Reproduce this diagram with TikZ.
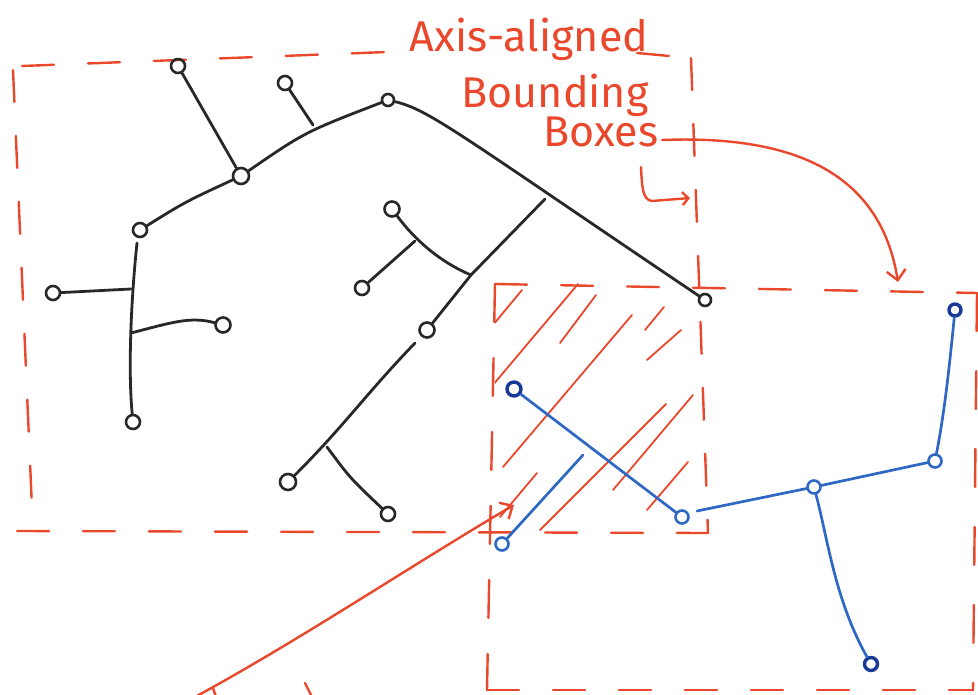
\documentclass[tikz,border=0pt]{standalone}
\usepackage{fontspec}
\newfontfamily\handfont{Fira Sans}
\usetikzlibrary{arrows.meta}
\definecolor{pen}{RGB}{234,72,44}
\definecolor{ink}{RGB}{40,40,40}
\definecolor{bluepen}{RGB}{46,104,196}
\definecolor{bluedark}{RGB}{24,58,150}

\begin{document}
\begin{tikzpicture}[x=1pt,y=-1pt,
  redline/.style={draw=pen,line width=2.4pt,line cap=round},
  dashedge/.style={redline,dash pattern=on 32pt off 34pt},
  hatchline/.style={draw=pen,line width=1.8pt,line cap=round},
  inkline/.style={draw=ink,line width=2.8pt,line cap=round},
  blueline/.style={draw=bluepen,line width=2.7pt,line cap=round},
  bnode/.style={circle,draw=ink,line width=2.6pt,inner sep=0pt,minimum size=14pt},
  bluenode/.style={circle,draw=bluepen,line width=2.6pt,inner sep=0pt,minimum size=13pt},
  darknode/.style={circle,draw=bluedark,line width=3.4pt,inner sep=0pt,minimum size=14pt},
  handtext/.style={text=pen,font=\handfont\fontsize{43}{43}\selectfont,inner sep=0pt,anchor=base},
  barb/.style={-{Straight Barb[length=10pt,width=19pt]}}
]
\fill[white] (0,0) rectangle (978,695);
\useasboundingbox (0,0) rectangle (978,695);

% ---------- bounding box of the black tree ----------
\coordinate (b1tl) at (22,66);
\coordinate (b1tm) at (413,51);
\coordinate (b1tn) at (637,53);
\coordinate (b1tr) at (691,58);
\coordinate (b1br) at (708,533);
\coordinate (b1bl) at (17,531);
\coordinate (b1lt) at (13,70);
\coordinate (b1lb) at (33,531);
\draw[dashedge] (b1tl) -- (b1tm);
\draw[dashedge] (b1tn) -- (b1tr);
\draw[dashedge] (b1tr) -- (b1br);
\draw[dashedge] (b1bl) -- (b1br);
\draw[dashedge] (b1lt) -- (b1lb);

% ---------- bounding box of the blue tree ----------
\coordinate (b2tl) at (495,284);
\coordinate (b2tr) at (977,293);
\coordinate (b2br) at (973,690);
\coordinate (b2bl) at (487,690);
\draw[dashedge] (b2tl) -- (b2tr);
\draw[dashedge,dash pattern=on 38pt off 40pt] (b2tr) -- (b2br);
\draw[dashedge] (b2bl) -- (b2br);
\draw[dashedge,dash pattern=on 38pt off 36pt] (b2tl) -- (b2bl);

% ---------- overlap hatching ----------
\begin{scope}
\clip (495,284) rectangle (708,533);
\draw[hatchline] (493,325) -- (522,290);
\draw[hatchline] (487,392) -- (578,284);
\draw[hatchline] (560,343) -- (596,295);
\draw[hatchline] (503,467) -- (632,315);
\draw[hatchline] (645,330) -- (664,307);
\draw[hatchline] (647,360) -- (681,330);
\draw[hatchline] (540,530) -- (666,404);
\draw[hatchline] (613,490) -- (693,395);
\draw[hatchline] (647,510) -- (688,462);
\draw[hatchline] (500,517) -- (537,473);
\end{scope}

% ---------- title ----------
\node[handtext] (t1) at (529,52) {Axis-aligned};
\node[handtext] (t2) at (555,108) {Bounding};
\node[handtext] (t3) at (601,147) {Boxes};

% ---------- annotation arrows ----------
\coordinate (a0) at (662,140);
\coordinate (a1) at (898,282);
\draw[redline,barb] (a0) .. controls (790,135) and (880,170) .. (a1);

\coordinate (h0) at (641,167);
\coordinate (h1) at (690,198);
\draw[redline,-{Straight Barb[length=6pt,width=13pt]}] (h0) .. controls (642,185) and (642,200) .. (652,201) -- (h1);

\coordinate (s0) at (195,697);
\coordinate (s1) at (514,505);
\draw[redline,barb] (s0) .. controls (300,640) and (420,560) .. (s1);
\coordinate (m0) at (213,688);
\coordinate (m1) at (216,697);
\draw[redline] (m0) -- (m1);
\coordinate (m2) at (305,683);
\coordinate (m3) at (312,697);
\draw[redline] (m2) -- (m3);

% ---------- black tree ----------
\node[bnode] (A) at (178,66) {};
\node[bnode,minimum size=16pt] (B) at (241,176) {};
\node[bnode] (C) at (285,83) {};
\node[bnode,minimum size=12pt] (D) at (388,100) {};
\node[bnode] (E) at (140,230) {};
\node[bnode,minimum size=12pt] (F) at (705,300) {};
\node[bnode] (G) at (133,422) {};
\node[bnode] (H) at (53,293) {};
\node[bnode,minimum size=15pt] (I) at (223,325) {};
\node[bnode,minimum size=15pt] (J) at (427,330) {};
\node[bnode,minimum size=16pt] (K) at (288,482) {};
\node[bnode,minimum size=15pt] (L) at (392,209) {};
\node[bnode] (M) at (388,514) {};
\node[bnode] (N) at (362,288) {};

\coordinate (c1) at (313,125);
\coordinate (t0) at (137,243);
\coordinate (tH) at (131,289);
\coordinate (tI) at (131,333);
\coordinate (l0) at (545,199);
\coordinate (l1) at (471,275);
\coordinate (l2) at (415,343);
\coordinate (kM) at (327,447);
\coordinate (n1) at (415,241);

\draw[inkline] (A) -- (B);
\draw[inkline] (C) -- (c1);
\draw[inkline] (E) .. controls (185,202) .. (B);
\draw[inkline] (B) .. controls (305,132) .. (D);
\draw[inkline] (D) .. controls (430,110) and (460,135) .. (F);
\draw[inkline] (t0) .. controls (131,300) and (128,370) .. (G);
\draw[inkline] (tH) -- (H);
\draw[inkline] (tI) .. controls (170,323) and (190,316) .. (I);
\draw[inkline] (l0) -- (l1) -- (J);
\draw[inkline] (L) .. controls (415,240) and (440,262) .. (l1);
\draw[inkline] (N) -- (n1);
\draw[inkline] (l2) .. controls (365,395) and (345,425) .. (K);
\draw[inkline] (kM) .. controls (350,478) .. (M);

% ---------- blue tree ----------
\node[darknode] (P) at (514,389) {};
\node[bluenode] (Q) at (682,517) {};
\node[bluenode] (R) at (502,544) {};
\node[bluenode] (S) at (814,487) {};
\node[bluenode] (T) at (935,461) {};
\node[darknode,minimum size=12pt] (V) at (955,310) {};
\node[darknode,minimum size=13pt] (U) at (871,664) {};

\coordinate (r1) at (583,455);
\coordinate (q1) at (697,511);

\draw[blueline] (P) -- (Q);
\draw[blueline] (R) -- (r1);
\draw[blueline] (q1) -- (S) -- (T);
\draw[blueline] (T) .. controls (945,410) and (950,360) .. (V);
\draw[blueline] (S) .. controls (828,540) and (835,600) .. (U);
\end{tikzpicture}
\end{document}
